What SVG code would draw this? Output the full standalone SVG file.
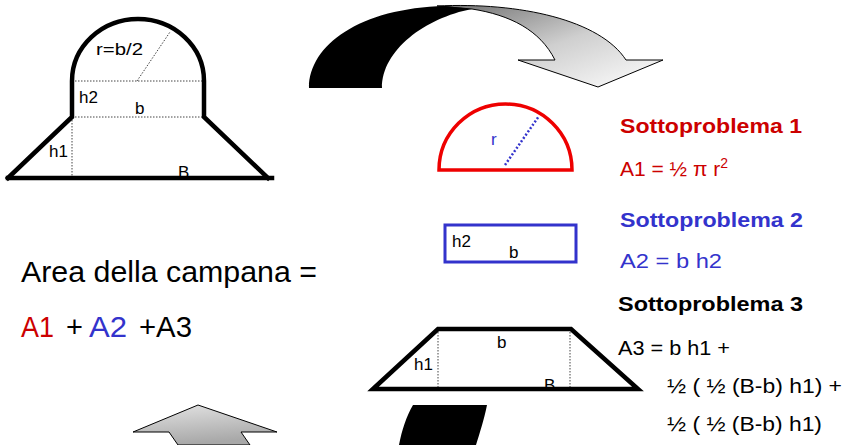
<svg xmlns="http://www.w3.org/2000/svg" width="847" height="445" viewBox="0 0 847 445">
<defs>
<linearGradient id="gTop" x1="0" y1="0" x2="1" y2="1">
<stop offset="0" stop-color="#6e6e6e"/>
<stop offset="0.5" stop-color="#cfcfcf"/>
<stop offset="1" stop-color="#ffffff"/>
</linearGradient>
<linearGradient id="gBot" x1="0" y1="0" x2="0.3" y2="1">
<stop offset="0" stop-color="#e4e4e4"/>
<stop offset="1" stop-color="#a8a8a8"/>
</linearGradient>
</defs>
<style>
text{font-family:"Liberation Sans","DejaVu Sans",sans-serif;}
.thick{fill:none;stroke:#000;stroke-width:4.5;stroke-linejoin:miter;stroke-linecap:square;}
.dot{fill:none;stroke:#444;stroke-width:1;stroke-dasharray:1.5,1.5;}
.lbl{font-size:17px;fill:#000;}
.head{font-size:20px;font-weight:bold;}
.eq{font-size:21px;}
.big{font-size:29px;}
.red{fill:#cc0000;}
.blue{fill:#3333cc;}
.blk{fill:#000;}
</style>
<rect width="847" height="445" fill="#fff"/>

<g id="connectors">
<path d="M437,6 C520,2 600,20 626,60 L663,60 L598,87 L518,60 L555,60 C540,30 510,15 472,9 Z" fill="url(#gTop)" stroke="#000" stroke-width="1"/>
<path d="M309,88 C309,45 360,8 445,6 L472,9 C425,18 382,50 382,88 Z" fill="#000"/>
<path d="M198,405 L277,432 L241,432 L250,445 L178,445 L169,432 L133,432 Z" fill="url(#gBot)" stroke="#000" stroke-width="1"/>
<path d="M413,405 L487,405 C484,420 480,432 476,445 L399,445 C402,430 406,417 413,405 Z" fill="#000"/>
</g>

<g id="bell">
<line class="dot" x1="72" y1="81" x2="204" y2="81"/>
<line class="dot" x1="72" y1="117" x2="204" y2="117"/>
<line class="dot" x1="72" y1="117" x2="72" y2="178"/>
<line class="dot" x1="137" y1="81" x2="170" y2="32"/>
<path class="thick" d="M8,178 L72,117 L72,81 A66,62 0 0 1 204,81 L204,117 L268,178"/>
<line class="thick" x1="8" y1="178" x2="272" y2="178"/>
<text class="lbl" x="96" y="55" textLength="47" lengthAdjust="spacingAndGlyphs">r=b/2</text>
<text class="lbl" x="79" y="103">h2</text>
<text class="lbl" x="135" y="114">b</text>
<text class="lbl" x="49" y="157">h1</text>
<text class="lbl" x="178" y="178">B</text>
</g>

<g id="semicircle">
<path d="M439,170 A66.5,66 0 0 1 572,170 Z" fill="none" stroke="#ee0000" stroke-width="3.5"/>
<line x1="505" y1="165" x2="539" y2="116" stroke="#3333cc" stroke-width="2.5" stroke-dasharray="2,2"/>
<text class="lbl blue" x="491" y="145">r</text>
</g>

<g id="rectangle">
<rect x="445" y="225" width="131" height="37" fill="none" stroke="#3333cc" stroke-width="3"/>
<text class="lbl" x="452" y="247">h2</text>
<text class="lbl" x="509" y="258">b</text>
</g>

<g id="trapezoid">
<line class="dot" x1="438" y1="329" x2="438" y2="389"/>
<line class="dot" x1="570" y1="329" x2="570" y2="389"/>
<path class="thick" d="M373,389 L438,329 L571,329 L638,389 Z"/>
<text class="lbl" x="497" y="348">b</text>
<text class="lbl" x="414" y="370">h1</text>
<text class="lbl" x="544" y="391">B</text>
</g>

<g id="sub1">
<text class="head red" x="620" y="133" textLength="182" lengthAdjust="spacingAndGlyphs">Sottoproblema 1</text>
<text class="eq red" x="620" y="176">A1 = ½ π r<tspan font-size="14" dy="-8">2</tspan></text>
</g>

<g id="sub2">
<text class="head blue" x="620" y="227" textLength="183" lengthAdjust="spacingAndGlyphs">Sottoproblema 2</text>
<text class="eq blue" x="620" y="268" textLength="102" lengthAdjust="spacingAndGlyphs">A2 = b h2</text>
</g>

<g id="sub3">
<text class="head blk" x="618" y="311" textLength="185" lengthAdjust="spacingAndGlyphs">Sottoproblema 3</text>
<text class="eq blk" x="618" y="355" textLength="112" lengthAdjust="spacingAndGlyphs">A3 = b h1 +</text>
<text class="eq blk" x="667" y="393" textLength="175" lengthAdjust="spacingAndGlyphs">½ ( ½ (B-b) h1) +</text>
<text class="eq blk" x="667" y="431" textLength="155" lengthAdjust="spacingAndGlyphs">½ ( ½ (B-b) h1)</text>
</g>

<g id="total">
<text class="big blk" x="21" y="282" textLength="296" lengthAdjust="spacingAndGlyphs">Area della campana =</text>
<text class="big red" x="21" y="337" textLength="33" lengthAdjust="spacingAndGlyphs">A1</text>
<text class="big blk" x="66" y="337">+</text>
<text class="big blue" x="89" y="337" textLength="38" lengthAdjust="spacingAndGlyphs">A2</text>
<text class="big blk" x="139" y="337" textLength="53" lengthAdjust="spacingAndGlyphs">+A3</text>
</g>
</svg>
